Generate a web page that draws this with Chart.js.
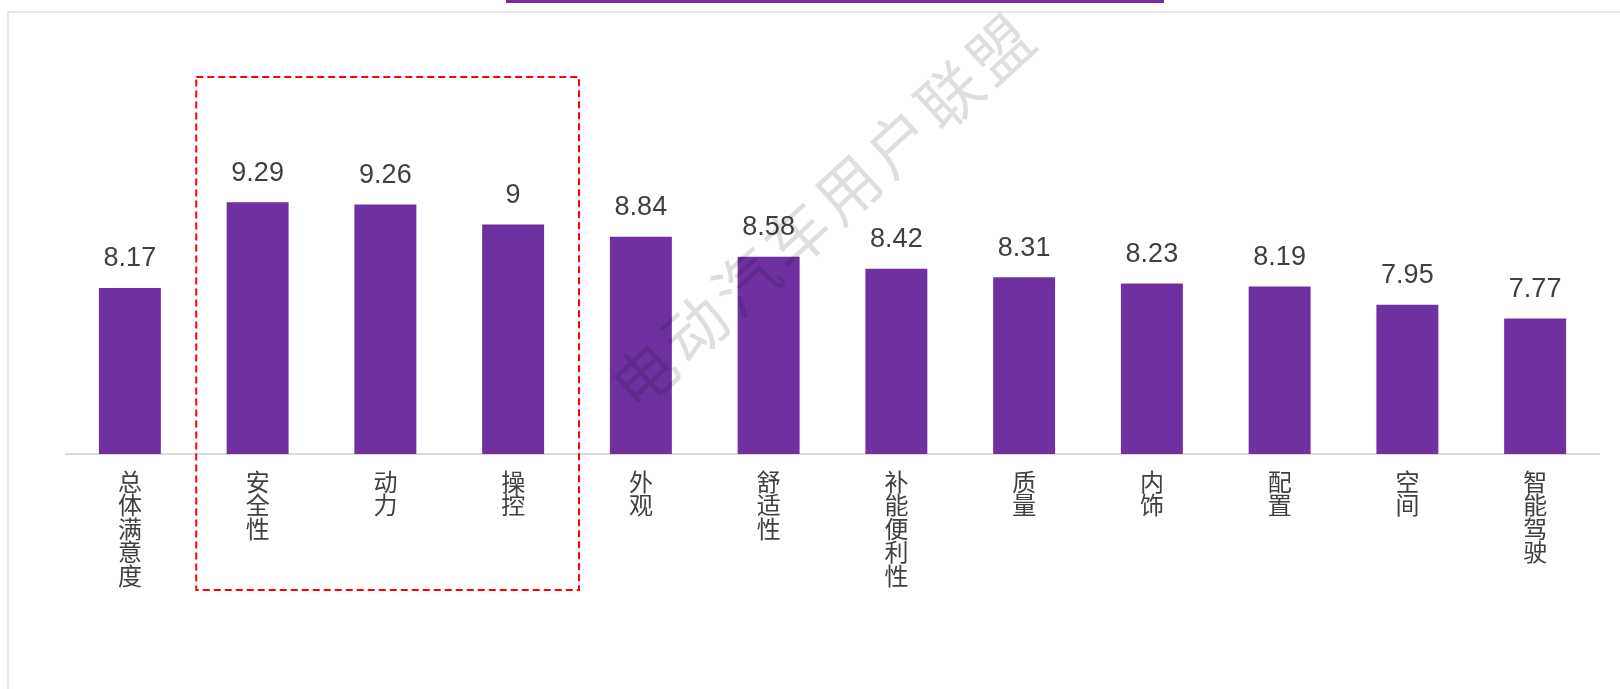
<!DOCTYPE html>
<html>
<head>
<meta charset="utf-8">
<script src="https://cdn.jsdelivr.net/npm/chart.js@4.4.1/dist/chart.umd.min.js"></script>
<style>
  html, body { margin: 0; padding: 0; background: #ffffff; }
  body { width: 1620px; height: 689px; position: relative; overflow: hidden; }
  #frame { position: absolute; left: 7px; top: 11px; right: 0; bottom: 0;
           border-left: 2px solid #e6e6ec; border-top: 2px solid #e6e6ec; }
  #topbar { position: absolute; left: 506px; top: 0; width: 658px; height: 3px; background: #7030a0; }
  #wrap { position: absolute; left: 0; top: 0; width: 1620px; height: 689px; }
</style>
</head>
<body>
<div id="frame"></div>
<div id="topbar"></div>
<div id="wrap"><canvas id="c" width="1620" height="689"></canvas></div>
<script>
// ---- data ----
const categories = ['总体满意度', '安全性', '动力', '操控', '外观', '舒适性', '补能便利性', '质量', '内饰', '配置', '空间', '智能驾驶'];
const scores = [8.17, 9.29, 9.26, 9, 8.84, 8.58, 8.42, 8.31, 8.23, 8.19, 7.95, 7.77];
const highlighted = ['安全性', '动力', '操控'];
const watermarkText = '电动汽车用户联盟';
const yMin = 6;
const yMax = 10;

// ---- plugins ----
const valueLabels = {
  id: 'valueLabels',
  afterDatasetsDraw(chart) {
    const ctx = chart.ctx;
    const meta = chart.getDatasetMeta(0);
    ctx.save();
    ctx.font = '27px "Liberation Sans", Arial, sans-serif';
    ctx.fillStyle = '#404040';
    ctx.textAlign = 'center';
    ctx.textBaseline = 'alphabetic';
    meta.data.forEach((bar, i) => {
      ctx.fillText(String(chart.data.datasets[0].data[i]), bar.x, bar.y - 21.5);
    });
    ctx.restore();
  }
};

const highlightBox = {
  id: 'highlightBox',
  afterDraw(chart, args, opts) {
    const x = chart.scales.x;
    const idx = opts.items.map(s => chart.data.labels.findIndex(l => l.join('') === s));
    const first = Math.min(...idx), last = Math.max(...idx);
    const half = (x.getPixelForValue(1) - x.getPixelForValue(0)) / 2;
    const left = x.getPixelForValue(first) - half + 2.5;
    const right = x.getPixelForValue(last) + half + 2;
    const ctx = chart.ctx;
    ctx.save();
    ctx.strokeStyle = '#ff0000';
    ctx.lineWidth = 2;
    ctx.setLineDash([7, 4]);
    ctx.strokeRect(left, opts.top, right - left, opts.bottom - opts.top);
    ctx.restore();
  }
};

const watermark = {
  id: 'watermark',
  afterDraw(chart, args, opts) {
    const ctx = chart.ctx;
    const chars = opts.text.split('');
    const ang = opts.angle * Math.PI / 180;
    ctx.save();
    ctx.translate(opts.cx, opts.cy);
    ctx.rotate(ang);
    ctx.font = opts.size + 'px "Noto Sans CJK SC", sans-serif';
    ctx.fillStyle = 'rgba(0,0,0,0.13)';
    ctx.textAlign = 'center';
    ctx.textBaseline = 'middle';
    const n = chars.length;
    chars.forEach((ch, i) => {
      ctx.fillText(ch, (i - (n - 1) / 2) * opts.pitch, 0);
    });
    ctx.restore();
  }
};

new Chart(document.getElementById('c'), {
  type: 'bar',
  data: {
    labels: categories.map(s => s.split('')),
    datasets: [{
      data: scores,
      backgroundColor: '#7030a0',
      borderWidth: 0,
      barPercentage: 0.485,
      categoryPercentage: 1
    }]
  },
  options: {
    responsive: false,
    animation: false,
    events: [],
    layout: { padding: { left: 66, right: 21, top: 148, bottom: 0 } },
    plugins: {
      legend: { display: false },
      tooltip: { enabled: false },
      highlightBox: { items: highlighted, top: 77, bottom: 590 },
      watermark: { text: watermarkText, cx: 822, cy: 212, angle: -42.5, size: 63, pitch: 69 }
    },
    scales: {
      x: {
        grid: { display: false, drawTicks: false },
        border: { display: true, color: '#d9d9d9', width: 2 },
        ticks: {
          color: '#404040',
          padding: 16,
          maxRotation: 0,
          autoSkip: false,
          font: { family: '"Noto Sans CJK SC", sans-serif', size: 24, lineHeight: 0.98 }
        },
        afterFit(scale) { scale.height = 235; }
      },
      y: {
        display: false,
        min: yMin,
        max: yMax
      }
    }
  },
  plugins: [valueLabels, highlightBox, watermark]
});
</script>
</body>
</html>
